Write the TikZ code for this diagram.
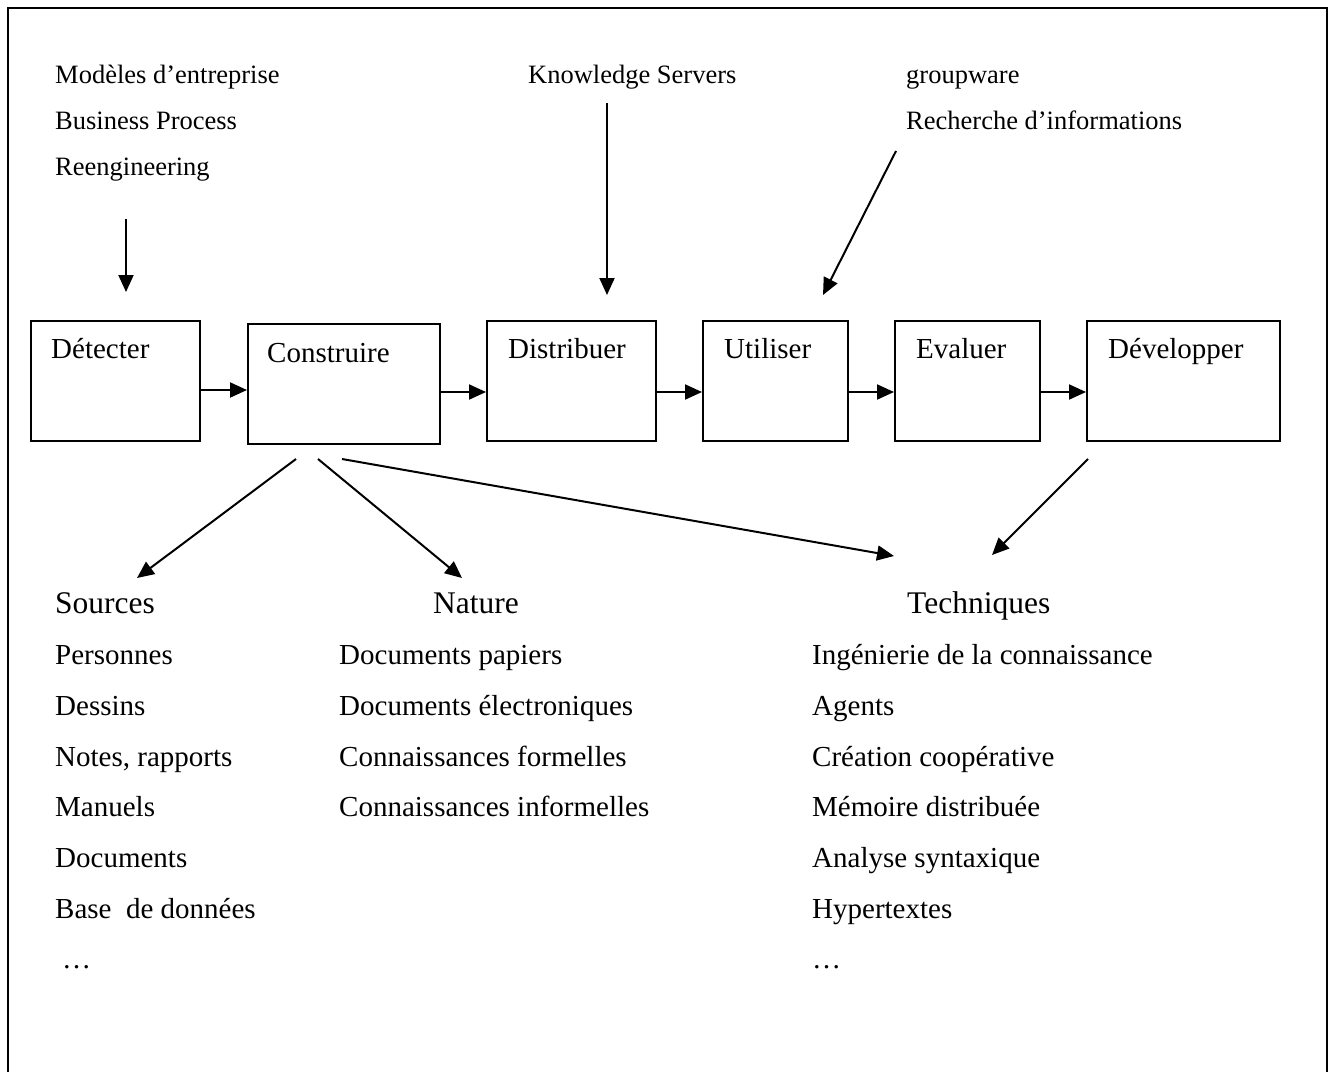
\documentclass[tikz,border=0pt]{standalone}
\usepackage{fontspec}
\setmainfont{Liberation Serif}
\usetikzlibrary{arrows.meta}
\begin{document}
\begin{tikzpicture}[x=1pt,y=-1pt,
  box/.style={draw,line width=2pt,inner sep=0pt,anchor=north west,minimum height=120pt},
  arr/.style={line width=2pt,-{Triangle[length=17pt,width=15pt]}},
  small/.style={inner sep=0pt,anchor=base west,font=\fontsize{26.5}{30}\selectfont},
  txt/.style={inner sep=0pt,anchor=base west,font=\fontsize{29}{33}\selectfont},
  head/.style={inner sep=0pt,anchor=base west,font=\fontsize{31.5}{36}\selectfont}]
\useasboundingbox (0,0) rectangle (1329,1071);
% frame (open at the bottom)
\draw[line width=2pt] (8,1075) -- (8,8) -- (1327,8) -- (1327,1075);

% boxes
\node[box,minimum width=169pt] (det) at (30,320) {};
\node[box,minimum width=192pt] (con) at (247,323) {};
\node[box,minimum width=169pt] (dis) at (486,320) {};
\node[box,minimum width=145pt] (uti) at (702,320) {};
\node[box,minimum width=145pt] (eva) at (894,320) {};
\node[box,minimum width=193pt] (dev) at (1086,320) {};

\node[txt] (tdet) at (51,358) {Détecter};
\node[txt] (tcon) at (267,362) {Construire};
\node[txt] (tdis) at (508,358) {Distribuer};
\node[txt] (tuti) at (724,358) {Utiliser};
\node[txt] (teva) at (916,358) {Evaluer};
\node[txt] (tdev) at (1108,358) {Développer};

% chain arrows
\draw[arr] (det.east |- 0,390) -- (con.west |- 0,390);
\draw[arr] (con.east |- 0,392) -- (dis.west |- 0,392);
\draw[arr] (dis.east |- 0,392) -- (uti.west |- 0,392);
\draw[arr] (uti.east |- 0,392) -- (eva.west |- 0,392);
\draw[arr] (eva.east |- 0,392) -- (dev.west |- 0,392);

% top labels
\node[small] (m1) at (55,83) {Modèles d’entreprise};
\node[small] (m2) at (55,129) {Business Process};
\node[small] (m3) at (55,175) {Reengineering};
\node[small] (ks) at (528,83) {Knowledge Servers};
\node[small] (gw) at (906,83) {groupware};
\node[small] (ri) at (906,129) {Recherche d’informations};

\coordinate (s1) at (126,219);
\coordinate (e1) at (126,292);
\coordinate (s2) at (607,103);
\coordinate (e2) at (607,295);
\coordinate (s3) at (896,151);
\coordinate (e3) at (823,295);
\draw[arr] (s1) -- (e1);
\draw[arr] (s2) -- (e2);
\draw[arr] (s3) -- (e3);

% headers
\node[head] (hs) at (55,613) {Sources};
\node[head] (hn) at (433,613) {Nature};
\node[head] (ht) at (907,613) {Techniques};

\coordinate (c1) at (296,459);
\coordinate (c2) at (318,459);
\coordinate (c3) at (342,459);
\coordinate (d1) at (1088,459);
\coordinate (ts) at (137,578);
\coordinate (tn) at (462,578);
\coordinate (tt) at (894,556);
\coordinate (tt2) at (992,555);
\draw[arr] (c1) -- (ts);
\draw[arr] (c2) -- (tn);
\draw[arr] (c3) -- (tt);
\draw[arr] (d1) -- (tt2);

% Sources list
\node[txt] (s_1) at (55,664) {Personnes};
\node[txt] (s_2) at (55,715) {Dessins};
\node[txt] (s_3) at (55,766) {Notes, rapports};
\node[txt] (s_4) at (55,816) {Manuels};
\node[txt] (s_5) at (55,867) {Documents};
\node[txt] (s_6) at (55,918) {Base\ \ de données};
\node[txt] (s_7) at (62,968) {…};

% Nature list
\node[txt] (n_1) at (339,664) {Documents papiers};
\node[txt] (n_2) at (339,715) {Documents électroniques};
\node[txt] (n_3) at (339,766) {Connaissances formelles};
\node[txt] (n_4) at (339,816) {Connaissances informelles};

% Techniques list
\node[txt] (t_1) at (812,664) {Ingénierie de la connaissance};
\node[txt] (t_2) at (812,715) {Agents};
\node[txt] (t_3) at (812,766) {Création coopérative};
\node[txt] (t_4) at (812,816) {Mémoire distribuée};
\node[txt] (t_5) at (812,867) {Analyse syntaxique};
\node[txt] (t_6) at (812,918) {Hypertextes};
\node[txt] (t_7) at (812,968) {…};
\end{tikzpicture}
\end{document}
